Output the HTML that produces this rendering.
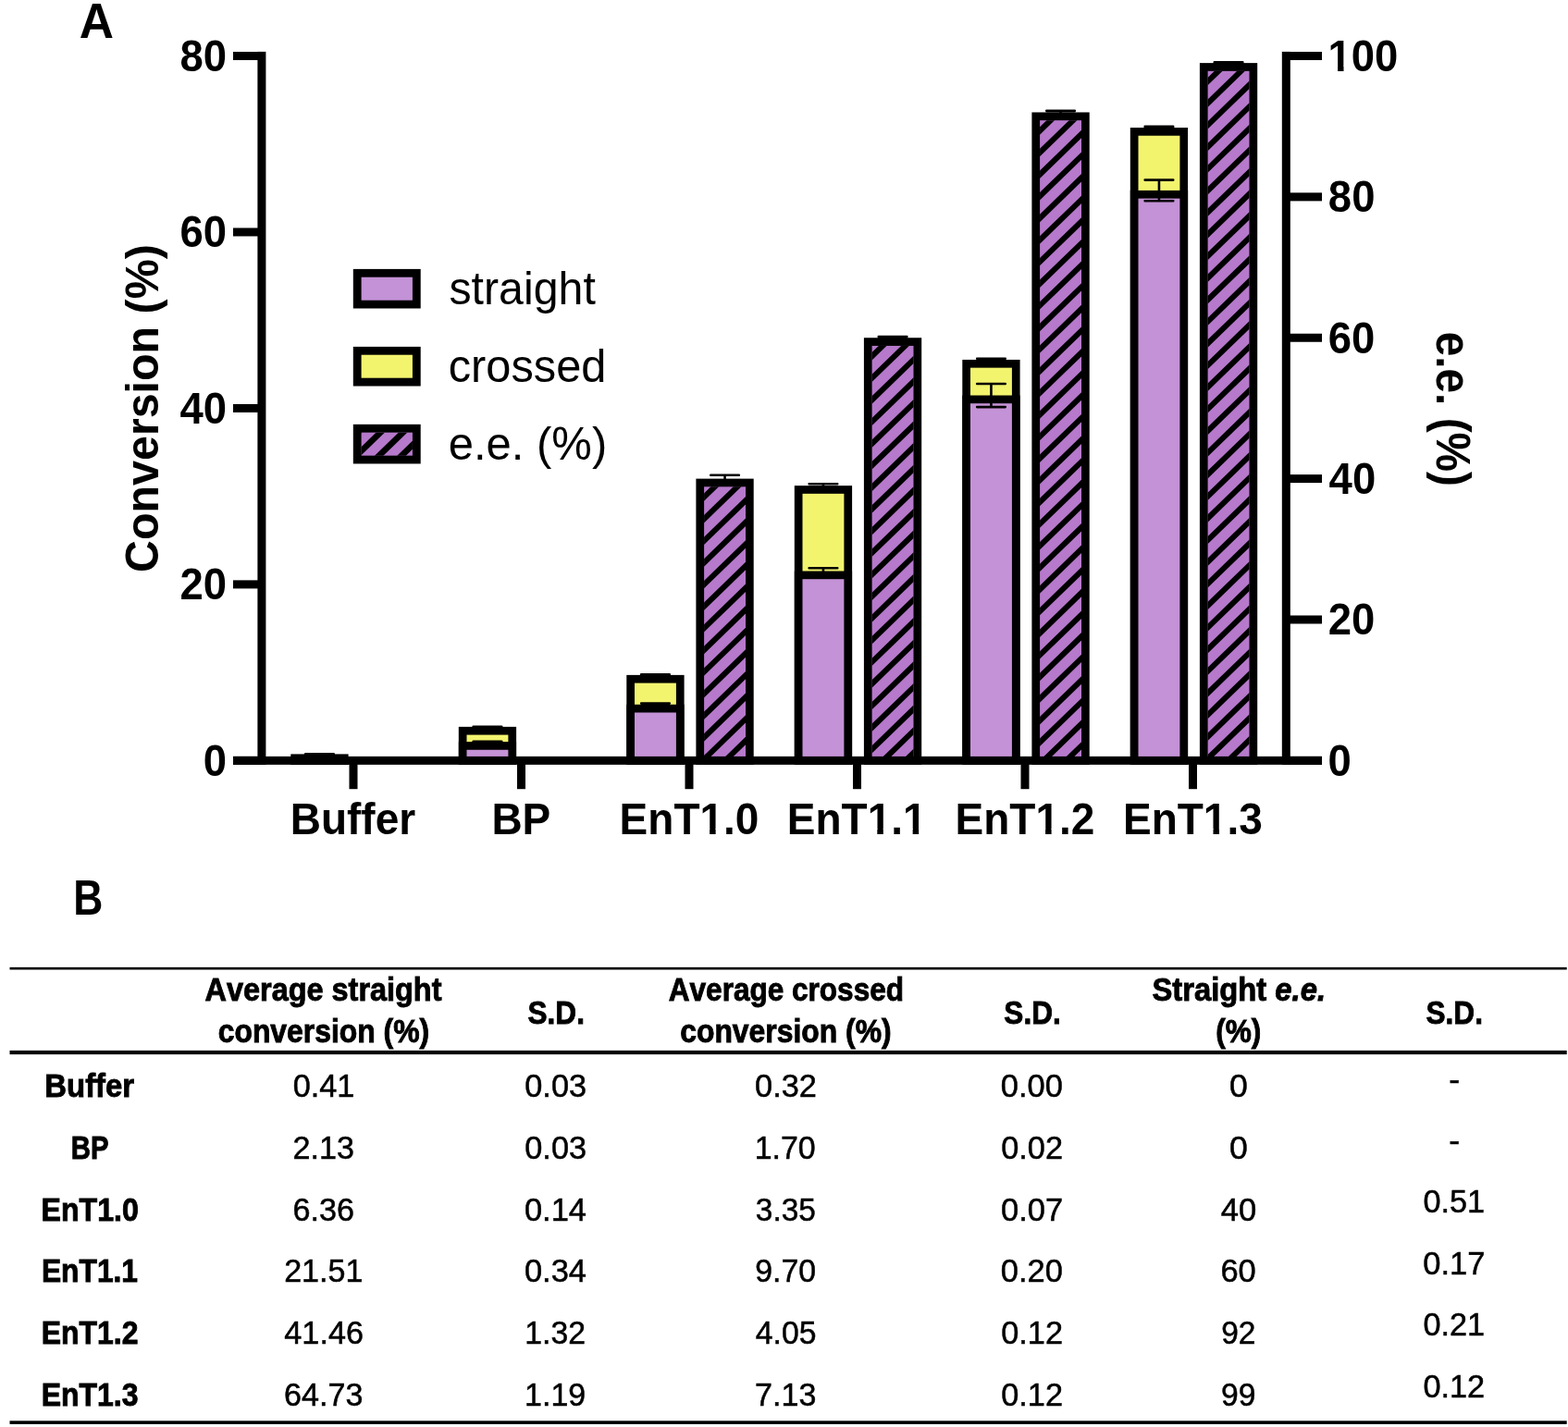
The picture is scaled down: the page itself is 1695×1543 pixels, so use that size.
<!DOCTYPE html>
<html lang="en"><head><meta charset="utf-8"><title>Conversion and e.e. chart</title>
<style>
html,body{margin:0;padding:0;background:#fff;}
body{width:1695px;height:1543px;overflow:hidden;}
svg{display:block;}
text{font-family:"Liberation Sans",Arial,sans-serif;fill:#000;font-kerning:none;}
.tb{stroke:#000;stroke-width:0.9px;}
.tr{stroke:#000;stroke-width:0.5px;}
</style></head><body>
<svg width="1695" height="1543" viewBox="0 0 1695 1543">
<defs><clipPath id="hc0"><rect x="761.10" y="526.31" width="44.90" height="291.69"/></clipPath><clipPath id="hc1"><rect x="942.60" y="373.94" width="44.90" height="444.06"/></clipPath><clipPath id="hc2"><rect x="1124.10" y="130.15" width="44.90" height="687.85"/></clipPath><clipPath id="hc3"><rect x="1305.60" y="76.82" width="44.90" height="741.18"/></clipPath><clipPath id="hc99"><rect x="390.60" y="467.65" width="55.30" height="25.00"/></clipPath></defs>
<rect width="1695" height="1543" fill="#fff"/>
<g><rect x="314.30" y="815.40" width="62.30" height="11.45" fill="#000"/><rect x="314.30" y="818.45" width="62.30" height="8.40" fill="#000"/><path d="M345.45 818.73V818.16M330.15 818.16H360.75M330.15 818.73H360.75" stroke="#000" stroke-width="2.6" stroke-linecap="round" fill="none"/><path d="M345.45 815.40V815.40M330.15 815.40H360.75M330.15 815.40H360.75" stroke="#000" stroke-width="2.6" stroke-linecap="round" fill="none"/><rect x="495.80" y="785.88" width="62.30" height="40.97" fill="#000"/><rect x="504.50" y="794.58" width="44.90" height="23.42" fill="#F3F46E"/><rect x="495.80" y="802.07" width="62.30" height="24.78" fill="#000"/><rect x="504.50" y="810.77" width="44.90" height="7.23" fill="#C492D6"/><path d="M526.95 802.35V801.78M511.65 801.78H542.25M511.65 802.35H542.25" stroke="#000" stroke-width="2.6" stroke-linecap="round" fill="none"/><path d="M526.95 786.07V785.69M511.65 785.69H542.25M511.65 786.07H542.25" stroke="#000" stroke-width="2.6" stroke-linecap="round" fill="none"/><rect x="677.30" y="729.88" width="62.30" height="96.97" fill="#000"/><rect x="686.00" y="738.58" width="44.90" height="79.42" fill="#F3F46E"/><rect x="677.30" y="761.78" width="62.30" height="65.07" fill="#000"/><rect x="686.00" y="770.48" width="44.90" height="47.52" fill="#C492D6"/><path d="M708.45 763.12V760.45M693.15 760.45H723.75M693.15 763.12H723.75" stroke="#000" stroke-width="2.6" stroke-linecap="round" fill="none"/><path d="M708.45 730.55V729.21M693.15 729.21H723.75M693.15 730.55H723.75" stroke="#000" stroke-width="2.6" stroke-linecap="round" fill="none"/><rect x="752.40" y="517.61" width="62.30" height="309.24" fill="#000"/><rect x="761.10" y="526.31" width="44.90" height="291.69" fill="#B679CB"/><path d="M751.10 476.35L816.00 413.40M751.10 499.97L816.00 437.02M751.10 523.59L816.00 460.64M751.10 547.21L816.00 484.26M751.10 570.83L816.00 507.88M751.10 594.45L816.00 531.50M751.10 618.07L816.00 555.12M751.10 641.69L816.00 578.74M751.10 665.31L816.00 602.36M751.10 688.93L816.00 625.98M751.10 712.55L816.00 649.60M751.10 736.17L816.00 673.22M751.10 759.79L816.00 696.84M751.10 783.41L816.00 720.46M751.10 807.03L816.00 744.08M751.10 830.65L816.00 767.70M751.10 854.27L816.00 791.32M751.10 877.89L816.00 814.94" stroke="#000" stroke-width="6.03" fill="none" clip-path="url(#hc0)"/><path d="M783.55 521.50V513.72M768.25 513.72H798.85M768.25 521.50H798.85" stroke="#000" stroke-width="2.6" stroke-linecap="round" fill="none"/><rect x="858.80" y="525.13" width="62.30" height="301.72" fill="#000"/><rect x="867.50" y="533.83" width="44.90" height="284.17" fill="#F3F46E"/><rect x="858.80" y="617.51" width="62.30" height="209.34" fill="#000"/><rect x="867.50" y="626.21" width="44.90" height="191.79" fill="#C492D6"/><path d="M889.95 620.75V614.27M874.65 614.27H905.25M874.65 620.75H905.25" stroke="#000" stroke-width="2.6" stroke-linecap="round" fill="none"/><path d="M889.95 527.04V523.23M874.65 523.23H905.25M874.65 527.04H905.25" stroke="#000" stroke-width="2.6" stroke-linecap="round" fill="none"/><rect x="933.90" y="365.24" width="62.30" height="461.61" fill="#000"/><rect x="942.60" y="373.94" width="44.90" height="444.06" fill="#B679CB"/><path d="M932.60 323.98L997.50 261.03M932.60 347.60L997.50 284.65M932.60 371.22L997.50 308.27M932.60 394.84L997.50 331.89M932.60 418.46L997.50 355.51M932.60 442.08L997.50 379.13M932.60 465.70L997.50 402.75M932.60 489.32L997.50 426.37M932.60 512.94L997.50 449.99M932.60 536.56L997.50 473.61M932.60 560.18L997.50 497.23M932.60 583.80L997.50 520.85M932.60 607.42L997.50 544.47M932.60 631.04L997.50 568.09M932.60 654.66L997.50 591.71M932.60 678.28L997.50 615.33M932.60 701.90L997.50 638.95M932.60 725.52L997.50 662.57M932.60 749.14L997.50 686.19M932.60 772.76L997.50 709.81M932.60 796.38L997.50 733.43M932.60 820.00L997.50 757.05M932.60 843.62L997.50 780.67M932.60 867.24L997.50 804.29M932.60 890.86L997.50 827.91" stroke="#000" stroke-width="6.03" fill="none" clip-path="url(#hc1)"/><path d="M965.05 366.54V363.94M949.75 363.94H980.35M949.75 366.54H980.35" stroke="#000" stroke-width="2.6" stroke-linecap="round" fill="none"/><rect x="1040.30" y="388.95" width="62.30" height="437.90" fill="#000"/><rect x="1049.00" y="397.65" width="44.90" height="420.35" fill="#F3F46E"/><rect x="1040.30" y="427.52" width="62.30" height="399.33" fill="#000"/><rect x="1049.00" y="436.22" width="44.90" height="381.78" fill="#C492D6"/><path d="M1071.45 440.09V414.95M1056.15 414.95H1086.75M1056.15 440.09H1086.75" stroke="#000" stroke-width="2.6" stroke-linecap="round" fill="none"/><path d="M1071.45 390.10V387.81M1056.15 387.81H1086.75M1056.15 390.10H1086.75" stroke="#000" stroke-width="2.6" stroke-linecap="round" fill="none"/><rect x="1115.40" y="121.45" width="62.30" height="705.40" fill="#000"/><rect x="1124.10" y="130.15" width="44.90" height="687.85" fill="#B679CB"/><path d="M1114.10 80.19L1179.00 17.24M1114.10 103.81L1179.00 40.86M1114.10 127.43L1179.00 64.48M1114.10 151.05L1179.00 88.10M1114.10 174.67L1179.00 111.72M1114.10 198.29L1179.00 135.34M1114.10 221.91L1179.00 158.96M1114.10 245.53L1179.00 182.58M1114.10 269.15L1179.00 206.20M1114.10 292.77L1179.00 229.82M1114.10 316.39L1179.00 253.44M1114.10 340.01L1179.00 277.06M1114.10 363.63L1179.00 300.68M1114.10 387.25L1179.00 324.30M1114.10 410.87L1179.00 347.92M1114.10 434.49L1179.00 371.54M1114.10 458.11L1179.00 395.16M1114.10 481.73L1179.00 418.78M1114.10 505.35L1179.00 442.40M1114.10 528.97L1179.00 466.02M1114.10 552.59L1179.00 489.64M1114.10 576.21L1179.00 513.26M1114.10 599.83L1179.00 536.88M1114.10 623.45L1179.00 560.50M1114.10 647.07L1179.00 584.12M1114.10 670.69L1179.00 607.74M1114.10 694.31L1179.00 631.36M1114.10 717.93L1179.00 654.98M1114.10 741.55L1179.00 678.60M1114.10 765.17L1179.00 702.22M1114.10 788.79L1179.00 725.84M1114.10 812.41L1179.00 749.46M1114.10 836.03L1179.00 773.08M1114.10 859.65L1179.00 796.70M1114.10 883.27L1179.00 820.32" stroke="#000" stroke-width="6.03" fill="none" clip-path="url(#hc2)"/><path d="M1146.55 123.05V119.85M1131.25 119.85H1161.85M1131.25 123.05H1161.85" stroke="#000" stroke-width="2.6" stroke-linecap="round" fill="none"/><rect x="1221.80" y="138.02" width="62.30" height="688.83" fill="#000"/><rect x="1230.50" y="146.72" width="44.90" height="671.28" fill="#F3F46E"/><rect x="1221.80" y="205.92" width="62.30" height="620.93" fill="#000"/><rect x="1230.50" y="214.62" width="44.90" height="603.38" fill="#C492D6"/><path d="M1252.95 217.25V194.59M1237.65 194.59H1268.25M1237.65 217.25H1268.25" stroke="#000" stroke-width="2.6" stroke-linecap="round" fill="none"/><path d="M1252.95 139.16V136.88M1237.65 136.88H1268.25M1237.65 139.16H1268.25" stroke="#000" stroke-width="2.6" stroke-linecap="round" fill="none"/><rect x="1296.90" y="68.12" width="62.30" height="758.73" fill="#000"/><rect x="1305.60" y="76.82" width="44.90" height="741.18" fill="#B679CB"/><path d="M1295.60 26.86L1360.50 -36.09M1295.60 50.48L1360.50 -12.47M1295.60 74.10L1360.50 11.15M1295.60 97.72L1360.50 34.77M1295.60 121.34L1360.50 58.39M1295.60 144.96L1360.50 82.01M1295.60 168.58L1360.50 105.63M1295.60 192.20L1360.50 129.25M1295.60 215.82L1360.50 152.87M1295.60 239.44L1360.50 176.49M1295.60 263.06L1360.50 200.11M1295.60 286.68L1360.50 223.73M1295.60 310.30L1360.50 247.35M1295.60 333.92L1360.50 270.97M1295.60 357.54L1360.50 294.59M1295.60 381.16L1360.50 318.21M1295.60 404.78L1360.50 341.83M1295.60 428.40L1360.50 365.45M1295.60 452.02L1360.50 389.07M1295.60 475.64L1360.50 412.69M1295.60 499.26L1360.50 436.31M1295.60 522.88L1360.50 459.93M1295.60 546.50L1360.50 483.55M1295.60 570.12L1360.50 507.17M1295.60 593.74L1360.50 530.79M1295.60 617.36L1360.50 554.41M1295.60 640.98L1360.50 578.03M1295.60 664.60L1360.50 601.65M1295.60 688.22L1360.50 625.27M1295.60 711.84L1360.50 648.89M1295.60 735.46L1360.50 672.51M1295.60 759.08L1360.50 696.13M1295.60 782.70L1360.50 719.75M1295.60 806.32L1360.50 743.37M1295.60 829.94L1360.50 766.99M1295.60 853.56L1360.50 790.61M1295.60 877.18L1360.50 814.23" stroke="#000" stroke-width="6.03" fill="none" clip-path="url(#hc3)"/><path d="M1328.05 69.03V67.20M1312.75 67.20H1343.35M1312.75 69.03H1343.35" stroke="#000" stroke-width="2.6" stroke-linecap="round" fill="none"/><rect x="278.40" y="55.90" width="9.00" height="770.95" fill="#000"/><rect x="1385.80" y="55.90" width="9.00" height="770.95" fill="#000"/><rect x="252.00" y="817.85" width="27.40" height="9.00" fill="#000"/><rect x="252.00" y="627.39" width="27.40" height="9.00" fill="#000"/><rect x="252.00" y="436.93" width="27.40" height="9.00" fill="#000"/><rect x="252.00" y="246.46" width="27.40" height="9.00" fill="#000"/><rect x="252.00" y="56.00" width="27.40" height="9.00" fill="#000"/><rect x="1389.80" y="817.85" width="39.20" height="9.00" fill="#000"/><rect x="1389.80" y="665.48" width="39.20" height="9.00" fill="#000"/><rect x="1389.80" y="513.11" width="39.20" height="9.00" fill="#000"/><rect x="1389.80" y="360.74" width="39.20" height="9.00" fill="#000"/><rect x="1389.80" y="208.37" width="39.20" height="9.00" fill="#000"/><rect x="1389.80" y="56.00" width="39.20" height="9.00" fill="#000"/><rect x="252.00" y="817.90" width="1177.00" height="8.95" fill="#000"/><rect x="377.50" y="820.00" width="9.00" height="33.20" fill="#000"/><rect x="559.00" y="820.00" width="9.00" height="33.20" fill="#000"/><rect x="740.50" y="820.00" width="9.00" height="33.20" fill="#000"/><rect x="922.00" y="820.00" width="9.00" height="33.20" fill="#000"/><rect x="1103.50" y="820.00" width="9.00" height="33.20" fill="#000"/><rect x="1285.00" y="820.00" width="9.00" height="33.20" fill="#000"/><text x="0" y="0" font-size="47.60" font-weight="bold" transform="translate(219.78 838.75) scale(0.9550 1)">0</text><text x="0" y="0" font-size="47.60" font-weight="bold" transform="translate(194.50 648.29) scale(0.9550 1)">20</text><text x="0" y="0" font-size="47.60" font-weight="bold" transform="translate(194.50 457.82) scale(0.9550 1)">40</text><text x="0" y="0" font-size="47.60" font-weight="bold" transform="translate(194.50 267.36) scale(0.9550 1)">60</text><text x="0" y="0" font-size="47.60" font-weight="bold" transform="translate(194.50 76.90) scale(0.9550 1)">80</text><text x="0" y="0" font-size="47.60" font-weight="bold" transform="translate(1435.50 838.75) scale(0.9550 1)">0</text><text x="0" y="0" font-size="47.60" font-weight="bold" transform="translate(1435.72 686.38) scale(0.9550 1)">20</text><text x="0" y="0" font-size="47.60" font-weight="bold" transform="translate(1436.61 534.01) scale(0.9550 1)">40</text><text x="0" y="0" font-size="47.60" font-weight="bold" transform="translate(1435.64 381.64) scale(0.9550 1)">60</text><text x="0" y="0" font-size="47.60" font-weight="bold" transform="translate(1435.86 229.27) scale(0.9550 1)">80</text><text x="0" y="0" font-size="47.60" font-weight="bold" transform="translate(1435.54 76.90) scale(0.9550 1)">100</text><rect x="1437.07" y="71.37" width="8.99" height="6.53" fill="#fff"/><rect x="1452.49" y="71.37" width="7.95" height="6.53" fill="#fff"/><text x="0" y="0" font-size="48.00" font-weight="bold" transform="translate(313.71 901.60) scale(0.9580 1)">Buffer</text><text x="0" y="0" font-size="48.00" font-weight="bold" transform="translate(531.41 901.60) scale(0.9580 1)">BP</text><text x="0" y="0" font-size="48.00" font-weight="bold" transform="translate(669.62 901.60) scale(0.9580 1)">EnT1.0</text><rect x="758.02" y="896.03" width="9.09" height="6.57" fill="#fff"/><rect x="773.62" y="896.03" width="8.04" height="6.57" fill="#fff"/><text x="0" y="0" font-size="48.00" font-weight="bold" transform="translate(850.82 901.60) scale(0.9580 1)">EnT1.1</text><rect x="939.21" y="896.03" width="9.09" height="6.57" fill="#fff"/><rect x="954.82" y="896.03" width="8.04" height="6.57" fill="#fff"/><rect x="977.56" y="896.03" width="9.09" height="6.57" fill="#fff"/><rect x="993.17" y="896.03" width="8.04" height="6.57" fill="#fff"/><text x="0" y="0" font-size="48.00" font-weight="bold" transform="translate(1032.60 901.60) scale(0.9580 1)">EnT1.2</text><rect x="1120.99" y="896.03" width="9.09" height="6.57" fill="#fff"/><rect x="1136.60" y="896.03" width="8.04" height="6.57" fill="#fff"/><text x="0" y="0" font-size="48.00" font-weight="bold" transform="translate(1214.01 901.60) scale(0.9580 1)">EnT1.3</text><rect x="1302.40" y="896.03" width="9.09" height="6.57" fill="#fff"/><rect x="1318.01" y="896.03" width="8.04" height="6.57" fill="#fff"/><text x="0" y="0" font-size="50.00" font-weight="bold" transform="translate(170.50 618.99) rotate(-90) scale(0.9681 1)">Conversion (%)</text><text x="0" y="0" font-size="51.00" font-weight="bold" transform="translate(1553.10 358.63) rotate(90) scale(0.9378 1)">e.e. (%)</text><rect x="381.80" y="290.90" width="72.90" height="42.60" fill="#000"/><rect x="390.60" y="299.70" width="55.30" height="25.00" fill="#C492D6"/><rect x="381.80" y="374.90" width="72.90" height="42.60" fill="#000"/><rect x="390.60" y="383.70" width="55.30" height="25.00" fill="#F3F46E"/><rect x="381.80" y="458.85" width="72.90" height="42.60" fill="#000"/><rect x="390.60" y="467.65" width="55.30" height="25.00" fill="#B679CB"/><path d="M380.60 426.49L455.90 353.45M380.60 450.11L455.90 377.07M380.60 473.73L455.90 400.69M380.60 497.35L455.90 424.31M380.60 520.97L455.90 447.93M380.60 544.59L455.90 471.55M380.60 568.21L455.90 495.17" stroke="#000" stroke-width="6.60" fill="none" clip-path="url(#hc99)"/><text x="0" y="0" font-size="50.00" transform="translate(485.46 329.30) scale(0.9660 1)">straight</text><text x="0" y="0" font-size="50.00" transform="translate(484.73 412.50) scale(0.9751 1)">crossed</text><text x="0" y="0" font-size="50.00" transform="translate(484.72 496.50) scale(0.9798 1)">e.e. (%)</text><text x="0" y="0" font-size="54.10" font-weight="bold" transform="translate(85.82 41.00) scale(0.9533 1)">A</text><text x="0" y="0" font-size="53.80" font-weight="bold" transform="translate(79.23 988.60) scale(0.8260 1)">B</text></g>
<g><rect x="10.50" y="1045.90" width="1683.20" height="2.60" fill="#000"/><rect x="10.50" y="1135.90" width="1683.20" height="4.20" fill="#000"/><rect x="10.50" y="1536.30" width="1683.20" height="3.60" fill="#000"/><text x="0" y="0" font-size="34.80" font-weight="bold" class="tb" transform="translate(221.52 1082.30) scale(0.9327 1)">Average straight</text><text x="0" y="0" font-size="34.80" font-weight="bold" class="tb" transform="translate(235.72 1127.40) scale(0.9160 1)">conversion (%)</text><text x="0" y="0" font-size="34.80" font-weight="bold" class="tb" transform="translate(570.53 1106.90) scale(0.9074 1)">S.D.</text><text x="0" y="0" font-size="34.80" font-weight="bold" class="tb" transform="translate(722.81 1082.30) scale(0.9065 1)">Average crossed</text><text x="0" y="0" font-size="34.80" font-weight="bold" class="tb" transform="translate(735.22 1127.40) scale(0.9160 1)">conversion (%)</text><text x="0" y="0" font-size="34.80" font-weight="bold" class="tb" transform="translate(1085.33 1106.90) scale(0.9074 1)">S.D.</text><text x="0" y="0" font-size="34.80" font-weight="bold" class="tb" transform="translate(1245.38 1082.30) scale(0.9423 1)">Straight <tspan font-style="italic">e.e.</tspan></text><text x="0" y="0" font-size="34.80" font-weight="bold" class="tb" transform="translate(1314.23 1127.40) scale(0.9082 1)">(%)</text><text x="0" y="0" font-size="34.80" font-weight="bold" class="tb" transform="translate(1541.53 1106.90) scale(0.9074 1)">S.D.</text><text x="0" y="0" font-size="34.80" font-weight="bold" class="tb" transform="translate(48.35 1186.00) scale(0.9447 1)">Buffer</text><text x="0" y="0" font-size="34.80" class="tr" transform="translate(316.63 1186.00) scale(0.9844 1)">0.41</text><text x="0" y="0" font-size="34.80" class="tr" transform="translate(567.30 1186.00) scale(0.9857 1)">0.03</text><text x="0" y="0" font-size="34.80" class="tr" transform="translate(816.08 1186.00) scale(0.9865 1)">0.32</text><text x="0" y="0" font-size="34.80" class="tr" transform="translate(1081.87 1186.00) scale(0.9902 1)">0.00</text><text x="0" y="0" font-size="34.80" class="tr" transform="translate(1328.90 1186.00) scale(1.0231 1)">0</text><text x="0" y="0" font-size="34.80" class="tr" transform="translate(1566.25 1179.30) scale(1.0274 1)">-</text><text x="0" y="0" font-size="34.80" font-weight="bold" class="tb" transform="translate(76.78 1253.00) scale(0.8417 1)">BP</text><text x="0" y="0" font-size="34.80" class="tr" transform="translate(316.48 1253.00) scale(0.9806 1)">2.13</text><text x="0" y="0" font-size="34.80" class="tr" transform="translate(567.30 1253.00) scale(0.9857 1)">0.03</text><text x="0" y="0" font-size="34.80" class="tr" transform="translate(815.66 1253.00) scale(0.9747 1)">1.70</text><text x="0" y="0" font-size="34.80" class="tr" transform="translate(1082.18 1253.00) scale(0.9865 1)">0.02</text><text x="0" y="0" font-size="34.80" class="tr" transform="translate(1328.90 1253.00) scale(1.0231 1)">0</text><text x="0" y="0" font-size="34.80" class="tr" transform="translate(1566.25 1244.90) scale(1.0274 1)">-</text><text x="0" y="0" font-size="34.80" font-weight="bold" class="tb" transform="translate(44.55 1319.80) scale(0.9226 1)">EnT1.0</text><text x="0" y="0" font-size="34.80" class="tr" transform="translate(316.40 1319.80) scale(0.9829 1)">6.36</text><text x="0" y="0" font-size="34.80" class="tr" transform="translate(566.89 1319.80) scale(0.9903 1)">0.14</text><text x="0" y="0" font-size="34.80" class="tr" transform="translate(816.85 1319.80) scale(0.9603 1)">3.35</text><text x="0" y="0" font-size="34.80" class="tr" transform="translate(1081.98 1319.80) scale(0.9925 1)">0.07</text><text x="0" y="0" font-size="34.80" class="tr" transform="translate(1319.85 1319.80) scale(0.9933 1)">40</text><text x="0" y="0" font-size="34.80" class="tr" transform="translate(1538.43 1311.00) scale(0.9844 1)">0.51</text><text x="0" y="0" font-size="34.80" font-weight="bold" class="tb" transform="translate(44.89 1386.20) scale(0.9130 1)">EnT1.1</text><text x="0" y="0" font-size="34.80" class="tr" transform="translate(307.13 1386.20) scale(0.9793 1)">21.51</text><text x="0" y="0" font-size="34.80" class="tr" transform="translate(566.89 1386.20) scale(0.9903 1)">0.34</text><text x="0" y="0" font-size="34.80" class="tr" transform="translate(816.24 1386.20) scale(0.9723 1)">9.70</text><text x="0" y="0" font-size="34.80" class="tr" transform="translate(1081.87 1386.20) scale(0.9902 1)">0.20</text><text x="0" y="0" font-size="34.80" class="tr" transform="translate(1319.42 1386.20) scale(0.9911 1)">60</text><text x="0" y="0" font-size="34.80" class="tr" transform="translate(1538.18 1377.70) scale(0.9925 1)">0.17</text><text x="0" y="0" font-size="34.80" font-weight="bold" class="tb" transform="translate(44.82 1452.90) scale(0.9175 1)">EnT1.2</text><text x="0" y="0" font-size="34.80" class="tr" transform="translate(307.35 1452.90) scale(0.9831 1)">41.46</text><text x="0" y="0" font-size="34.80" class="tr" transform="translate(567.28 1452.90) scale(0.9709 1)">1.32</text><text x="0" y="0" font-size="34.80" class="tr" transform="translate(816.80 1452.90) scale(0.9693 1)">4.05</text><text x="0" y="0" font-size="34.80" class="tr" transform="translate(1082.18 1452.90) scale(0.9865 1)">0.12</text><text x="0" y="0" font-size="34.80" class="tr" transform="translate(1320.27 1452.90) scale(0.9605 1)">92</text><text x="0" y="0" font-size="34.80" class="tr" transform="translate(1538.43 1444.30) scale(0.9844 1)">0.21</text><text x="0" y="0" font-size="34.80" font-weight="bold" class="tb" transform="translate(44.69 1519.60) scale(0.9187 1)">EnT1.3</text><text x="0" y="0" font-size="34.80" class="tr" transform="translate(306.99 1519.60) scale(0.9806 1)">64.73</text><text x="0" y="0" font-size="34.80" class="tr" transform="translate(567.12 1519.60) scale(0.9742 1)">1.19</text><text x="0" y="0" font-size="34.80" class="tr" transform="translate(816.01 1519.60) scale(0.9795 1)">7.13</text><text x="0" y="0" font-size="34.80" class="tr" transform="translate(1082.18 1519.60) scale(0.9865 1)">0.12</text><text x="0" y="0" font-size="34.80" class="tr" transform="translate(1320.10 1519.60) scale(0.9665 1)">99</text><text x="0" y="0" font-size="34.80" class="tr" transform="translate(1538.38 1510.90) scale(0.9865 1)">0.12</text></g>
</svg>
</body></html>
